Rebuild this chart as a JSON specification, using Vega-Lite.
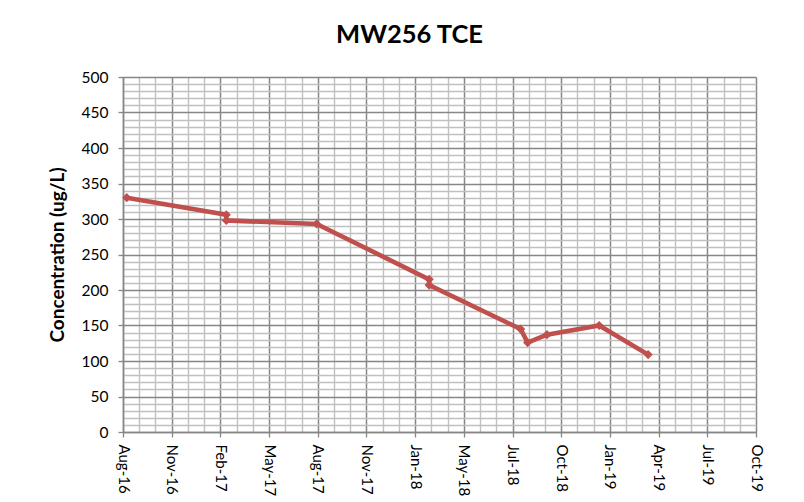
{
  "$schema": "https://vega.github.io/schema/vega-lite/v6.json",
  "width": 633,
  "height": 355,
  "autosize": "none",
  "padding": {"left": 123, "top": 77, "right": 48, "bottom": 70},
  "background": "white",
  "title": {"text": "MW256 TCE", "font": "Lato", "fontSize": 25.5, "fontWeight": "bold", "color": "#000000", "anchor": "middle", "frame": "group", "offset": 22, "dx": -30},
  "config": {"view": {"stroke": null}},
  "data": {
    "values": [
      {"date": "2016-08-13", "conc": 330},
      {"date": "2017-02-14", "conc": 306},
      {"date": "2017-02-14", "conc": 298},
      {"date": "2017-08-01", "conc": 293},
      {"date": "2018-02-26", "conc": 215},
      {"date": "2018-02-26", "conc": 207},
      {"date": "2018-08-15", "conc": 145},
      {"date": "2018-08-28", "conc": 126},
      {"date": "2018-10-03", "conc": 137},
      {"date": "2019-01-08", "conc": 150},
      {"date": "2019-04-09", "conc": 109}
    ]
  },
  "layer": [
    {
      "mark": {"type": "line", "color": "#C0504D", "strokeWidth": 4.6},
      "encoding": {
        "x": {"field": "date", "type": "temporal", "scale": {"type": "utc", "domain": [1470441600000, 1572091200000]},
          "axis": {"orient": "bottom", "values": [1473048000000, 1475654400000, 1480867200000, 1483473600000, 1488686400000, 1491292800000, 1496505600000, 1499112000000, 1504324800000, 1506931200000, 1512144000000, 1514750400000, 1519963200000, 1522569600000, 1527782400000, 1530388800000, 1535601600000, 1538208000000, 1543420800000, 1546027200000, 1551240000000, 1553846400000, 1559059200000, 1561665600000, 1566878400000, 1569484800000],
            "labels": false, "ticks": false, "domain": false, "grid": true, "gridColor": "#C0C0C0", "gridWidth": 1.4, "title": null}},
        "y": {"field": "conc", "type": "quantitative", "scale": {"domain": [0, 500], "nice": false},
          "axis": {"orient": "left", "values": [10, 20, 30, 40, 60, 70, 80, 90, 110, 120, 130, 140, 160, 170, 180, 190, 210, 220, 230, 240, 260, 270, 280, 290, 310, 320, 330, 340, 360, 370, 380, 390, 410, 420, 430, 440, 460, 470, 480, 490],
            "labels": false, "ticks": false, "domain": false, "grid": true, "gridColor": "#C0C0C0", "gridWidth": 1.4, "title": null}}
      }
    },
    {
      "mark": {"type": "point", "shape": "diamond", "filled": true, "color": "#C0504D", "size": 85, "opacity": 1},
      "encoding": {
        "x": {"field": "date", "type": "temporal", "scale": {"type": "utc", "domain": [1470441600000, 1572091200000]},
          "axis": {"orient": "bottom", "values": [1470441600000, 1478260800000, 1486080000000, 1493899200000, 1501718400000, 1509537600000, 1517356800000, 1525176000000, 1532995200000, 1540814400000, 1548633600000, 1556452800000, 1564272000000, 1572091200000],
            "format": "%b-%y", "labelAngle": 90, "labelAlign": "left", "labelBaseline": "middle", "labelFont": "Lato", "labelFontSize": 15, "labelColor": "#000000", "labelPadding": 7, "labelOverlap": false, "labelFlush": false,
            "tickSize": 5, "tickColor": "#868686", "tickWidth": 1.3, "domain": true, "domainColor": "#868686", "domainWidth": 1.5, "grid": true, "gridColor": "#868686", "gridWidth": 1.5, "title": null}},
        "y": {"field": "conc", "type": "quantitative", "scale": {"domain": [0, 500], "nice": false},
          "axis": {"orient": "left", "values": [0, 50, 100, 150, 200, 250, 300, 350, 400, 450, 500],
            "labelFont": "Lato", "labelFontSize": 15.5, "labelColor": "#000000", "labelPadding": 10,
            "tickSize": 5, "tickColor": "#868686", "tickWidth": 1.3, "domain": true, "domainColor": "#868686", "domainWidth": 1.5, "grid": true, "gridColor": "#868686", "gridWidth": 1.5,
            "title": "Concentration (ug/L)", "titleFont": "Lato", "titleFontSize": 19, "titleFontWeight": "bold", "titleColor": "#000000", "titlePadding": 14}}
      }
    }
  ],
  "resolve": {"axis": {"x": "independent", "y": "independent"}}
}
